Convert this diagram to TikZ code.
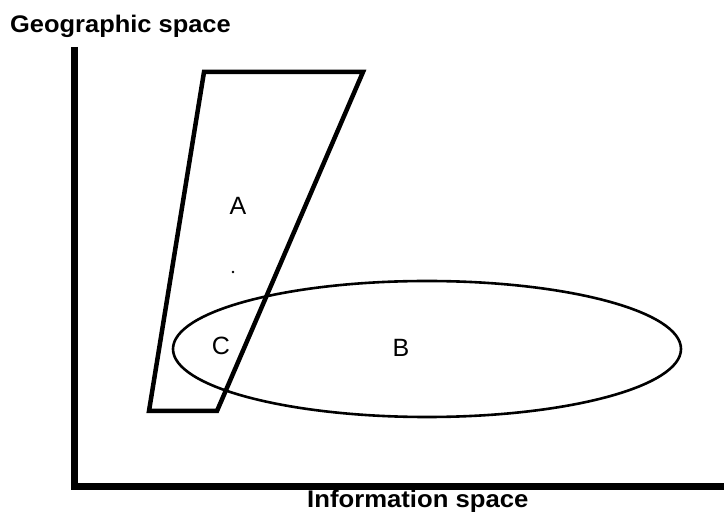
\documentclass[tikz,border=0pt]{standalone}
\usepackage{fontspec}
\setmainfont{Liberation Sans}
\begin{document}
\begin{tikzpicture}[x=1pt,y=-1pt,
  axis/.style={line width=7pt,line join=miter},
  quad/.style={line width=4.5pt,line join=miter},
  oval/.style={line width=2.6pt},
  axislabel/.style={font=\fontsize{24}{26}\selectfont\bfseries,inner sep=0pt,anchor=base west},
  region/.style={font=\fontsize{25}{27}\selectfont,inner sep=0pt}]
\useasboundingbox (0,0) rectangle (724,529);
% axes
\draw[axis] (74,47) -- (74,487) -- (724,487);
\node[axislabel] (geo) at (10,33) {\scalebox{1.06}[1]{Geographic space}};
\node[axislabel] (info) at (307,508) {\scalebox{1.07}[1]{Information space}};
% quadrilateral (geographic extent)
\draw[quad] (204,72) -- (363,72) -- (217,411) -- (149,411) -- cycle;
% ellipse (information extent)
\draw[oval] (427,349) ellipse [x radius=254, y radius=68];
% labels
\node[region] (A) at (238,206) {A};
\node[region] (B) at (401,348) {B};
\node[region] (C) at (221,346) {C};
% scan specks
\fill (233,272) circle (1.3);
\end{tikzpicture}
\end{document}
